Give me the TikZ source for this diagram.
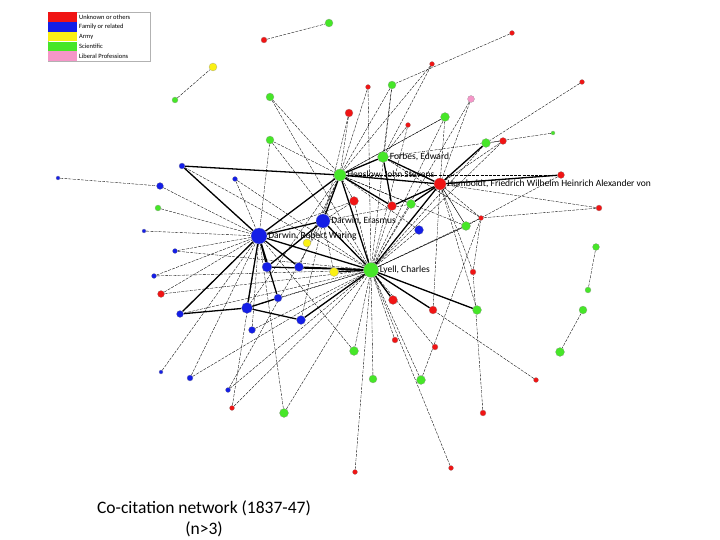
\documentclass[tikz,border=0pt]{standalone}
\usepackage{fontspec}
\setmainfont{Carlito}
\usetikzlibrary{backgrounds}
\begin{document}
\begin{tikzpicture}[x=1pt,y=-1pt,
  dot/.style={circle,draw=black!40,line width=0.2pt,inner sep=0pt},
  lab/.style={font=\fontsize{9.5}{9.5}\selectfont,anchor=west,inner sep=1pt},
  thin/.style={line width=0.35pt,dash pattern=on 3pt off 1.2pt},
  thick/.style={line width=1.3pt}]
\useasboundingbox (0,0) rectangle (720,540);
\definecolor{nred}{RGB}{240,20,20}
\definecolor{nblue}{RGB}{20,30,230}
\definecolor{ngreen}{RGB}{70,230,40}
\definecolor{nyel}{RGB}{250,240,20}
\definecolor{npink}{RGB}{245,150,200}
% legend
\node[draw=black!30,minimum width=102,minimum height=49,anchor=north west,inner sep=0] (leg) at (48,12) {};
\foreach \i/\c/\t in {0/nred/Unknown or others,1/nblue/Family or related,2/nyel/Army,3/ngreen/Scientific,4/npink/Liberal Professions}{
  \node[fill=\c,minimum width=29,minimum height=9.6,anchor=north west,inner sep=0] (sw\i) at (48,12+9.8*\i) {};
  \node[font=\fontsize{6.5}{6.5}\selectfont,anchor=west,inner sep=1pt] (lt\i) at (78,16.9+9.8*\i) {\t};
}
% hubs
\node[dot,fill=ngreen,minimum size=12] (H) at (340,175) {};
\node[dot,fill=ngreen,minimum size=11] (F) at (383,157) {};
\node[dot,fill=nred,minimum size=12] (Hu) at (440,184) {};
\node[dot,fill=nblue,minimum size=14] (E) at (323,221) {};
\node[dot,fill=nblue,minimum size=16] (R) at (259,236) {};
\node[dot,fill=ngreen,minimum size=15] (L) at (371,270) {};
% peripheral
\foreach \n/\x/\y/\c/\s in {
 r1/264/40/nred/6, r2/512/33/nred/5, r3/432/64/nred/5, r4/368/87/nred/5, r5/349/113/nred/8,
 r6/408/125/nred/5, r7/503/141/nred/7, r8/561/175/nred/7, r9/599/208/nred/6, r10/481/218/nred/5,
 r11/354/201/nred/9, r12/392/206/nred/9, r13/473/272/nred/6, r14/393/300/nred/9, r15/433/310/nred/8,
 r16/395/340/nred/6, r17/435/347/nred/6, r18/483/413/nred/6, r19/536/380/nred/5, r20/451/468/nred/5,
 r21/355/472/nred/5, r22/232/408/nred/5, r23/161/294/nred/7, r24/582/82/nred/5,
 g1/329/23/ngreen/8, g2/175/100/ngreen/6, g3/270/97/ngreen/8, g4/392/85/ngreen/8, g5/445/117/ngreen/9,
 g6/486/143/ngreen/9, g7/553/133/ngreen/4, g8/270/140/ngreen/8, g9/411/204/ngreen/9, g10/466/226/ngreen/9,
 g11/596/247/ngreen/7, g12/588/290/ngreen/6, g13/583/310/ngreen/8, g14/560/352/ngreen/9, g15/477/310/ngreen/9,
 g16/354/351/ngreen/9, g17/373/379/ngreen/8, g18/421/380/ngreen/9, g19/284/413/ngreen/9, g20/158/208/ngreen/6,
 b1/182/166/nblue/6, b2/160/186/nblue/7, b3/235/179/nblue/5, b4/58/178/nblue/4, b5/144/231/nblue/4,
 b6/175/251/nblue/5, b7/154/276/nblue/5, b8/267/267/nblue/10, b9/299/267/nblue/9, b10/278/298/nblue/8,
 b11/247/308/nblue/11, b12/301/320/nblue/9, b13/180/314/nblue/7, b14/252/330/nblue/7, b15/161/372/nblue/4,
 b16/190/378/nblue/6, b17/228/390/nblue/5, b18/419/230/nblue/9,
 y1/213/67/nyel/8, y2/307/243/nyel/8, y3/334/272/nyel/9, p1/471/99/npink/7}
 \node[dot,fill=\c,minimum size=\s] (\n) at (\x,\y) {};
% edges
\begin{scope}[on background layer]
\foreach \a/\b in {r1/g1, r2/g4, r3/H, r3/F, r4/H, r4/L, r5/H, r5/E, r6/F, r6/L, r7/Hu, r7/g6, r8/Hu, r8/g10, r9/r10, r9/Hu,
 r10/Hu, r10/L, r11/H, r11/L, r12/H, r12/L, r13/r10, r14/L, r15/L, r15/Hu, r16/L, r17/L, r18/r13, r19/r15, r20/L, r21/L, r22/R, r22/L, r23/R, r23/L, r24/g6,
 g2/y1, g3/H, g3/L, g4/H, g4/L, g5/H, g5/Hu, g5/L, g6/Hu, g6/L, g7/g6, g8/H, g8/R, g8/L, g9/Hu, g9/L, g9/H, g10/Hu, g10/L, g10/H,
 g11/g12, g13/g14, g15/L, g15/Hu, g16/L, g16/R, g17/L, g18/L, g18/r10, g19/L, g19/R, g20/R,
 b1/R, b1/L, b2/R, b3/R, b3/L, b4/b2, b5/R, b6/R, b6/L, b7/R, b7/L, b8/L, b9/L, b9/H, b10/L, b11/L, b11/H, b12/L, b12/E,
 b13/R, b13/L, b14/L, b14/R, b15/R, b16/R, b16/L, b17/L, b17/E, b18/L, b18/H, y2/H, y3/E, p1/L, p1/Hu,
 H/g5, F/g4, F/r10, Hu/g10, r11/E, r12/Hu, L/g10, E/g9, R/r11, L/r7, H/r8, F/g6, Hu/r13}
 \draw[thin] (\a) -- (\b);
\foreach \a/\b in {H/F, H/Hu, H/E, H/R, F/Hu, Hu/L, E/L, H/L, R/L, R/b8, R/b11, R/b10, R/b1, b11/b12, b11/b13, b12/L,
 Hu/g9, Hu/r12, Hu/g6, Hu/r8, H/r12, F/r12, b9/L, y3/L, b8/L, R/b9, E/b8, b10/b11, R/b13, L/r14, L/r15, L/g15, E/R, H/b1}
 \draw[thick] (\a) -- (\b);
\end{scope}
% labels
\node[lab] (tF) at (F.east) {Forbes, Edward};
\node[lab] (tH) at (H.east) {Henslow, John Stevens};
\node[lab] (tHu) at (Hu.east) {Humboldt, Friedrich Wilhelm Heinrich Alexander von};
\node[lab] (tE) at (E.east) {Darwin, Erasmus};
\node[lab] (tR) at (R.east) {Darwin, Robert Waring};
\node[lab] (tL) at (L.east) {Lyell, Charles};
% caption
\node[font=\fontsize{17.5}{17.5}\selectfont] (c1) at (204,508) {Co-citation network (1837-47)};
\node[font=\fontsize{17.5}{17.5}\selectfont] (c2) at (204,529) {(n>3)};
\end{tikzpicture}
\end{document}
